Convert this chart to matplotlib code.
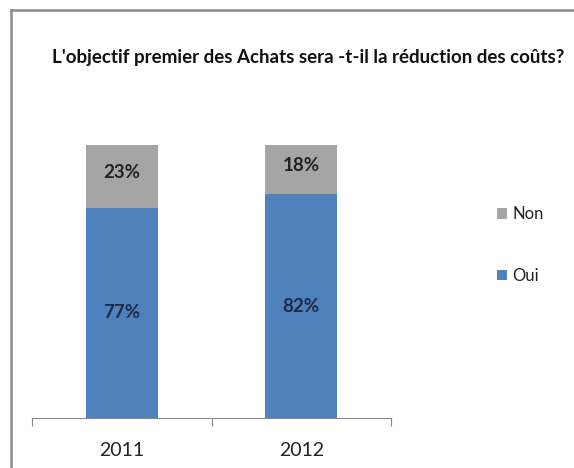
import numpy as np
import matplotlib
matplotlib.use("Agg")
import matplotlib.pyplot as plt
from matplotlib.lines import Line2D

years = ["2011", "2012"]
oui = [77, 82]
non = [23, 18]
title = "L'objectif premier des Achats sera -t-il la réduction des coûts?"

blue = "#4F81BD"
grey = "#A5A5A5"

plt.rcParams['font.family'] = ['Lato', 'DejaVu Sans']

fig = plt.figure(figsize=(5.74, 4.68), dpi=100)
ax = fig.add_axes([32 / 574, 50 / 468, 359 / 574, 273 / 468])

x = np.arange(len(years))
b1 = ax.bar(x, oui, width=0.4, color=blue, label="Oui")
b2 = ax.bar(x, non, width=0.4, bottom=oui, color=grey, label="Non")

for i in range(len(years)):
    ax.text(x[i], oui[i] / 2, f"{oui[i]}%", ha="center", va="center",
            fontsize=13.5, fontweight="bold", color="#1c2a4a")
    ax.text(x[i], oui[i] + non[i] / 2 + 1.5, f"{non[i]}%", ha="center", va="center",
            fontsize=13.5, fontweight="bold", color="#222222")

ax.set_xlim(-0.5, 1.5)
ax.set_ylim(0, 100)
for s in ["top", "right", "left"]:
    ax.spines[s].set_visible(False)
ax.spines["bottom"].set_color("#888888")
ax.set_yticks([])
ax.set_xticks([-0.5, 0.5, 1.5])
ax.set_xticklabels([])
ax.set_xticks(x, minor=True)
ax.set_xticklabels(years, minor=True, fontsize=14, color="#222222")
ax.tick_params(axis="x", which="major", length=6, color="#888888", direction="out")
ax.tick_params(axis="x", which="minor", length=0, pad=17)

fig.text(308 / 574, 1 - 57 / 468, title, ha="center", va="center",
         fontsize=13.5, fontweight="bold", color="#111111")

# legend: Non above Oui
leg = fig.legend([b2, b1], ["Non", "Oui"], loc="center left",
                 bbox_to_anchor=(482 / 574, 1 - 245 / 468), frameon=False,
                 fontsize=12, handlelength=0.6, handleheight=0.6,
                 handletextpad=0.3, labelspacing=2.75)
for t in leg.get_texts():
    t.set_color("#222222")

# chart border (only top and left visible in the crop)
left, top = 11 / 574, 1 - 10 / 468
fig.add_artist(Line2D([left, 1.0], [top, top], transform=fig.transFigure,
                      color="#8a8a8a", linewidth=1.8))
fig.add_artist(Line2D([left, left], [0, top], transform=fig.transFigure,
                      color="#8a8a8a", linewidth=1.8))

fig.savefig("out.png", dpi=100)
